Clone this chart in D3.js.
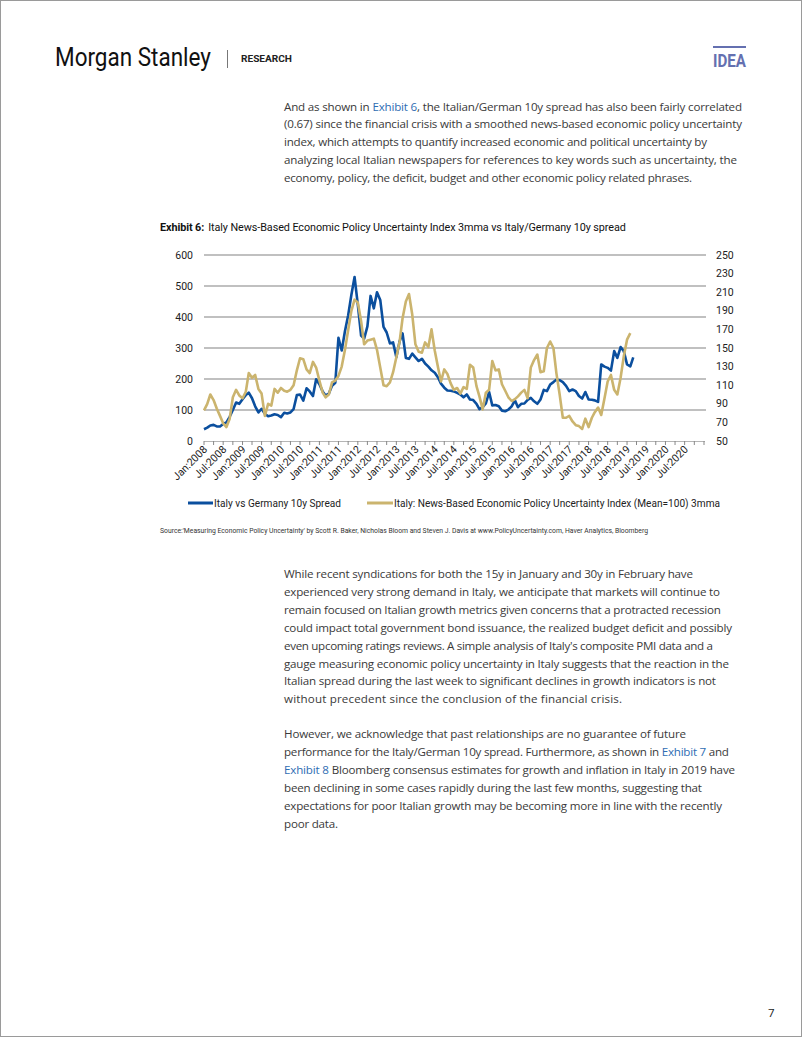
<!DOCTYPE html>
<html><head><meta charset="utf-8">
<script src="https://cdn.jsdelivr.net/npm/d3@7"></script>
<style>body{margin:0;background:#fff}svg{display:block}</style>
</head><body>
<div id="page"></div>
<script>
// ---------------- DATA ----------------
const startYear = 2008; // monthly series starting Jan 2008
// Italy vs Germany 10y spread (bp), left axis
const spread = [38,43,50,52,47,47,55,60,78,100,124,120,
 135,148,156,138,112,92,104,88,80,82,86,84,
 77,91,89,92,103,148,150,130,170,160,145,199,
 183,160,147,153,178,188,333,292,355,405,472,529,
 440,340,330,370,468,428,480,455,368,350,315,318,
 270,322,347,268,265,282,270,258,265,250,240,228,
 220,205,185,172,163,162,160,155,150,141,150,134,
 132,120,103,109,121,158,115,116,112,98,96,101,
 112,131,109,120,121,133,139,128,120,134,165,161,
 182,190,198,196,190,178,161,166,161,145,137,158,
 134,133,131,126,247,240,236,227,290,268,303,290,
 247,241,270];
// Italy News-Based EPU index (Mean=100) 3mma, right axis
const epu = [83,90,100,94,85,77,69,65,74,97,105,99,
 96,103,123,118,121,106,101,77,90,88,106,102,
 107,104,103,105,110,126,139,138,127,123,135,129,
 115,102,97,100,113,115,120,130,148,169,190,202,
 199,179,154,158,159,160,148,129,110,109,113,124,
 140,157,182,200,208,186,154,146,145,156,151,170,
 147,129,114,127,122,112,105,107,101,108,106,132,
 129,109,98,84,102,105,136,126,127,111,104,97,
 93,95,98,102,105,96,129,137,143,124,125,150,
 157,150,123,100,75,75,77,71,67,66,63,74,
 65,75,81,86,78,96,114,121,105,100,118,141,
 159,166];
const leftTicks = [0,100,200,300,400,500,600];
const rightTicks = [50,70,90,110,130,150,170,190,210,230,250];
const xLabelMonths = ["Jan","Jul"];
const xLabelYears = [2008,2009,2010,2011,2012,2013,2014,2015,2016,2017,2018,2019,2020];
const seriesNames = ["Italy vs Germany 10y Spread","Italy: News-Based Economic Policy Uncertainty Index (Mean=100) 3mma"];
const colors = {blue:"#0b4f9e", gold:"#cbb46e", grid:"#ababab", text:"#3a3a3a", link:"#2f6db3"};

const para1 = [
 [["And as shown in ",0],["Exhibit 6",1],[", the Italian/German 10y spread has also been fairly correlated",0]],
 [["(0.67) since the financial crisis with a smoothed news-based economic policy uncertainty",0]],
 [["index, which attempts to quantify increased economic and political uncertainty by",0]],
 [["analyzing local Italian newspapers for references to key words such as uncertainty, the",0]],
 [["economy, policy, the deficit, budget and other economic policy related phrases.",0]]
];
const para1Ends = [742,742,707,737,692];
const para2 = [
 [["While recent syndications for both the 15y in January and 30y in February have",0]],
 [["experienced very strong demand in Italy, we anticipate that markets will continue to",0]],
 [["remain focused on Italian growth metrics given concerns that a protracted recession",0]],
 [["could impact total government bond issuance, the realized budget deficit and possibly",0]],
 [["even upcoming ratings reviews. A simple analysis of Italy's composite PMI data and a",0]],
 [["gauge measuring economic policy uncertainty in Italy suggests that the reaction in the",0]],
 [["Italian spread during the last week to significant declines in growth indicators is not",0]],
 [["without precedent since the conclusion of the financial crisis.",0]]
];
const para2Ends = [693,720,721,732,713,729,716,622];
const para3 = [
 [["However, we acknowledge that past relationships are no guarantee of future",0]],
 [["performance for the Italy/German 10y spread. Furthermore, as shown in ",0],["Exhibit 7",1],[" and",0]],
 [["Exhibit 8",1],[" Bloomberg consensus estimates for growth and inflation in Italy in 2019 have",0]],
 [["been declining in some cases rapidly during the last few months, suggesting that",0]],
 [["expectations for poor Italian growth may be becoming more in line with the recently",0]],
 [["poor data.",0]]
];
const para3Ends = [686,729,735,702,722,338];

// ---------------- DRAW ----------------
const W=802,H=1037;
const svg=d3.select("#page").append("svg").attr("width",W).attr("height",H);
svg.append("rect").attr("x",0.5).attr("y",0.5).attr("width",W-1).attr("height",H-1)
  .attr("fill","#fff").attr("stroke","#9a9a9a").attr("stroke-width",1);

// header
svg.append("text").attr("x",55).attr("y",66).attr("font-family","Roboto").attr("font-size",25)
  .attr("fill","#111").attr("textLength",156).attr("lengthAdjust","spacingAndGlyphs").text("Morgan Stanley");
svg.append("line").attr("x1",227.5).attr("x2",227.5).attr("y1",50).attr("y2",68).attr("stroke","#777").attr("stroke-width",1);
svg.append("text").attr("x",241).attr("y",62).attr("font-family","Roboto").attr("font-weight","bold").attr("font-size",9.5)
  .attr("fill","#222").attr("textLength",51).attr("lengthAdjust","spacingAndGlyphs").text("RESEARCH");
svg.append("rect").attr("x",713).attr("y",46).attr("width",33).attr("height",2).attr("fill","#6470b0");
svg.append("text").attr("x",713).attr("y",67).attr("font-family","Roboto").attr("font-weight","bold").attr("font-size",18)
  .attr("fill","#6470b0").attr("textLength",33).attr("lengthAdjust","spacingAndGlyphs").text("IDEA");

// paragraphs: fit each line to its measured width via letter-spacing
function para(lines, ends, x0, y0, lh){
  lines.forEach((segs,i)=>{
    const t=svg.append("text").attr("x",x0).attr("y",y0+i*lh)
      .attr("font-family","Open Sans").attr("font-size",11.6).attr("fill",colors.text);
    segs.forEach(s=>t.append("tspan").attr("fill",s[1]?colors.link:colors.text).text(s[0]));
    const nat=t.node().getComputedTextLength();
    const n=segs.map(s=>s[0]).join("").length;
    const ls=((ends[i]-x0)-nat)/Math.max(1,n-1);
    t.attr("letter-spacing",ls.toFixed(3));
  });
}
para(para1,para1Ends,284,110.5,17.9);
para(para2,para2Ends,284,578,17.9);
para(para3,para3Ends,284,737.5,18.1);

// chart title
const title=svg.append("text").attr("x",160).attr("y",231).attr("font-family","Roboto").attr("font-size",10.8)
  .attr("fill","#111");
title.append("tspan").attr("font-weight","bold").text("Exhibit 6:");
title.append("tspan").attr("dx",4).text("Italy News-Based Economic Policy Uncertainty Index 3mma vs Italy/Germany 10y spread");
{
  const nat=title.node().getComputedTextLength();
  title.attr("letter-spacing",((462-nat)/90).toFixed(3));
}

// scales
const x=d3.scaleTime().domain([new Date(startYear,0,1),new Date(2021,0,1)]).range([204,704]);
const yL=d3.scaleLinear().domain([0,600]).range([441,255]);
const yR=d3.scaleLinear().domain([50,250]).range([441,255]);
const g=svg.append("g");

// grid
g.selectAll("line.grid").data(leftTicks.filter(d=>d>0)).enter().append("line")
  .attr("x1",204).attr("x2",706).attr("y1",d=>yL(d)).attr("y2",d=>yL(d))
  .attr("stroke",colors.grid).attr("stroke-width",1.4);
// axis labels
g.selectAll("text.yl").data(leftTicks).enter().append("text")
  .attr("x",193).attr("y",d=>yL(d)).attr("dy","0.35em").attr("text-anchor","end")
  .attr("font-family","Roboto").attr("font-size",10.5).attr("fill","#222").text(d=>d);
g.selectAll("text.yr").data(rightTicks).enter().append("text")
  .attr("x",716).attr("y",d=>yR(d)).attr("dy","0.35em")
  .attr("font-family","Roboto").attr("font-size",10.5).attr("fill","#222").text(d=>d);

// x axis
g.append("line").attr("x1",204).attr("x2",705).attr("y1",441.5).attr("y2",441.5).attr("stroke","#b5b5b5").attr("stroke-width",1);
const tickDates=d3.timeMonth.every(3).range(new Date(startYear,0,1),new Date(2021,0,2));
g.selectAll("line.xt").data(tickDates).enter().append("line")
  .attr("x1",d=>x(d)).attr("x2",d=>x(d)).attr("y1",441).attr("y2",445).attr("stroke","#888").attr("stroke-width",1);
const xLabels=[];
xLabelYears.forEach(yv=>xLabelMonths.forEach((mn,i)=>xLabels.push({date:new Date(yv,i*6,1),label:mn+":"+yv})));
g.selectAll("text.xl").data(xLabels).enter().append("text")
  .attr("transform",d=>`translate(${x(d.date)+4},${450}) rotate(-45)`)
  .attr("text-anchor","end").attr("font-family","Roboto").attr("font-size",10.6).attr("fill","#222")
  .text(d=>d.label);

// lines
const dateOf=i=>new Date(startYear,i,1);
const lineL=d3.line().x((d,i)=>x(dateOf(i))).y(d=>yL(d));
const lineR=d3.line().x((d,i)=>x(dateOf(i))).y(d=>yR(d));
g.append("path").attr("d",lineL(spread)).attr("fill","none").attr("stroke",colors.blue).attr("stroke-width",2.6).attr("stroke-linejoin","round");
g.append("path").attr("d",lineR(epu)).attr("fill","none").attr("stroke",colors.gold).attr("stroke-width",2.6).attr("stroke-linejoin","round");

// legend
const leg=[{x1:188,x2:213,c:colors.blue,t:seriesNames[0],w:127},{x1:367,x2:393,c:colors.gold,t:seriesNames[1],w:326}];
leg.forEach(l=>{
  svg.append("line").attr("x1",l.x1).attr("x2",l.x2).attr("y1",503).attr("y2",503).attr("stroke",l.c).attr("stroke-width",3);
  svg.append("text").attr("x",l.x2+1).attr("y",503).attr("dy","0.35em").attr("font-family","Roboto").attr("font-size",10.8)
    .attr("fill","#222").attr("textLength",l.w).attr("lengthAdjust","spacingAndGlyphs").text(l.t);
});

// source
svg.append("text").attr("x",160).attr("y",533).attr("font-family","Roboto").attr("font-size",6.8).attr("fill","#333")
  .attr("textLength",488).attr("lengthAdjust","spacingAndGlyphs")
  .text("Source:'Measuring Economic Policy Uncertainty' by Scott R. Baker, Nicholas Bloom and Steven J. Davis at www.PolicyUncertainty.com, Haver Analytics, Bloomberg");

// page number
svg.append("text").attr("x",768).attr("y",1017).attr("font-family","Open Sans").attr("font-size",11.5).attr("fill","#222").text("7");
</script>
</body></html>
